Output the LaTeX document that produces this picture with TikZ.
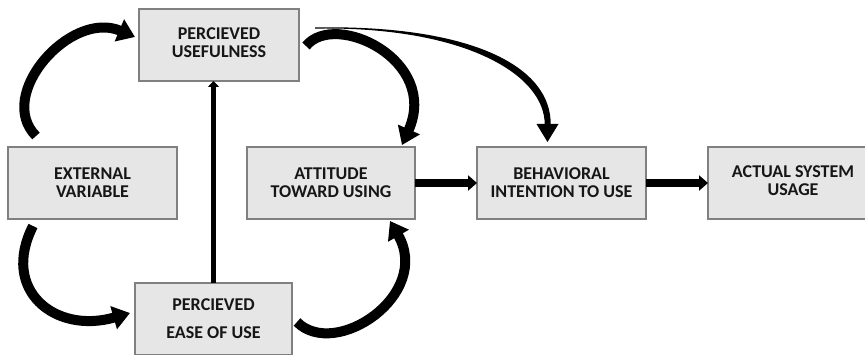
\documentclass[tikz,border=0pt]{standalone}
\usepackage{fontspec}
\setmainfont{Carlito}
\usetikzlibrary{arrows.meta,calc}

\definecolor{boxfill}{RGB}{230,230,230}
\definecolor{boxline}{RGB}{128,128,128}
\definecolor{ink}{RGB}{22,22,22}

% two centred lines of box text, raised or lowered by #1
\newcommand{\twolines}[3]{\raisebox{#1}{\begin{tabular}{@{}c@{}}#2\\#3\end{tabular}}}

\tikzset{
  varbox/.style={draw=boxline, line width=1.2pt, fill=boxfill, outer sep=0pt,
    minimum height=72pt, align=center, text=ink,
    font=\fontsize{18}{18}\selectfont\bfseries},
  curvearrow/.style={line width=10pt, -{Triangle[length=17pt,width=23pt]}},
  flowarrow/.style={line width=7.5pt, -{Triangle[length=9pt,width=15pt]}},
  thinarrow/.style={line width=5.5pt, -{Triangle[length=6pt,width=11pt]}},
  taperfill/.style={fill=black, draw=none},
}

\begin{document}
\begin{tikzpicture}[x=1pt, y=1pt]
\useasboundingbox (0,0) rectangle (865,354);

% construct boxes
\node[varbox, minimum width=160pt] (PU)   at (219,309)   {\twolines{-4pt}{PERCIEVED}{USEFULNESS}};
\node[varbox, minimum width=169pt] (EV)   at (92.5,171)  {EXTERNAL\\VARIABLE};
\node[varbox, minimum width=168pt] (ATU)  at (331,171)   {ATTITUDE\\TOWARD USING};
\node[varbox, minimum width=169pt] (BIU)  at (561.5,171) {BEHAVIORAL\\INTENTION TO USE};
\node[varbox, minimum width=170pt] (ASU)  at (793,171)   {\twolines{3.5pt}{ACTUAL SYSTEM}{USAGE}};
\node[varbox, minimum width=157pt] (PEOU) at (213.5,35)  {PERCIEVED\\[10pt]EASE OF USE};

% straight links
\draw[flowarrow] (ATU.east) -- (BIU.west);
\draw[flowarrow] (BIU.east) -- (ASU.west);
\draw[thinarrow] (PEOU.north) -- (PEOU.north |- PU.south);

% curved links
\draw[curvearrow] ($(EV.north west)+(28,11)$)
  to[out=135, in=157, out distance=58pt, in distance=70pt] ($(PU.west)+(-4,8)$);
\draw[curvearrow] ($(EV.south west)+(25,-7)$)
  to[out=243, in=196, out distance=72pt, in distance=78pt] ($(PEOU.west)+(-5,6)$);
\draw[curvearrow] ($(PEOU.east)+(5,-3)$)
  to[out=-45, in=-60, out distance=54pt, in distance=85pt] ($(ATU.south east)+(-25,-2)$);
\draw[curvearrow] ($(PU.east)+(7,-1)$)
  to[out=51, in=66, out distance=46pt, in distance=93pt] ($(ATU.north east)+(-13,2)$);

% long link that widens towards its head
\coordinate (tailPU) at ($(PU.north east)+(16,-19)$);
\coordinate (tipBI)  at ($(BIU.north)+(-14,5)$);
\fill[taperfill] ($(tailPU)+(0,0.6)$)
  to[out=1, in=89, out distance=158pt, in distance=58pt] ($(tipBI)+(3.2,17)$)
  -- ($(tipBI)+(-2.8,17)$)
  to[out=89, in=1, out distance=50pt, in distance=150pt] ($(tailPU)+(0,-0.6)$)
  -- cycle;
\fill[taperfill] (tipBI) -- ($(tipBI)+(-11,18)$) -- ($(tipBI)+(11,18)$) -- cycle;
\end{tikzpicture}
\end{document}
